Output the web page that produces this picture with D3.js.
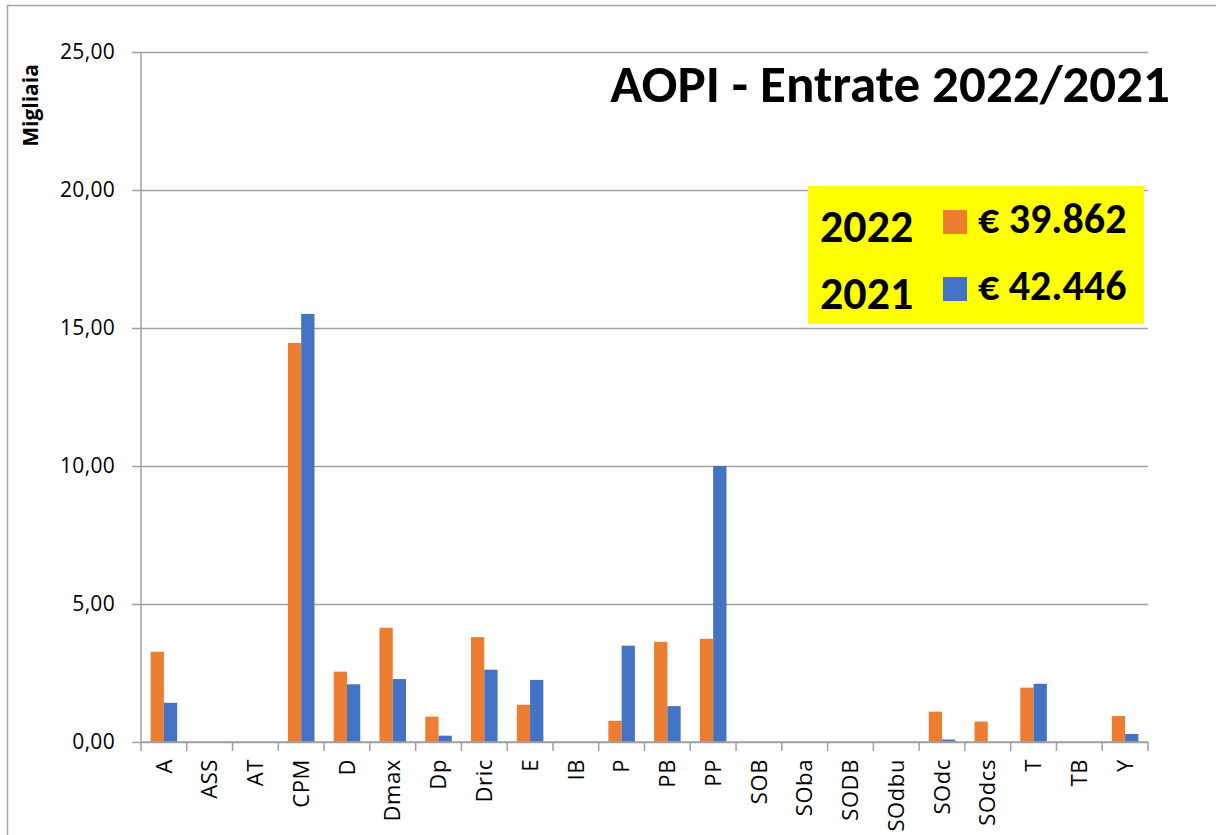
<!DOCTYPE html>
<html>
<head>
<meta charset="utf-8">
<title>AOPI - Entrate 2022/2021</title>
<style>
* { margin: 0; padding: 0; }
body { background: #fff; width: 1216px; height: 835px; overflow: hidden; }
svg { display: block; font-family: "Carlito", "Open Sans", sans-serif; }
.lbl { font-family: "Open Sans", sans-serif; }
</style>
</head>
<body>
<div id="chart"></div>
<script src="https://cdn.jsdelivr.net/npm/d3@7"></script>
<script>

var categories = [ 'A', 'ASS', 'AT', 'CPM', 'D', 'Dmax', 'Dp', 'Dric', 'E', 'IB', 'P',
	'PB', 'PP', 'SOB', 'SOba', 'SODB', 'SOdbu', 'SOdc', 'SOdcs', 'T', 'TB', 'Y' ];

// migliaia di euro
var values2022 = [ 3.27, 0, 0, 14.46, 2.55, 4.14, 0.92, 3.80, 1.35, 0, 0.77,
	3.63, 3.74, 0, 0, 0, 0, 1.10, 0.74, 1.97, 0, 0.94 ];
var values2021 = [ 1.42, 0, 0, 15.51, 2.09, 2.28, 0.23, 2.62, 2.25, 0, 3.49,
	1.30, 10.00, 0, 0, 0, 0, 0.09, 0, 2.11, 0, 0.29 ];

var seriesNames = [ '2022', '2021' ];
var seriesTotals = [ '€ 39.862', '€ 42.446' ];
var yTicks = [ 0, 5, 10, 15, 20, 25 ];

var colors = { '2022': '#ED7D31', '2021': '#4472C4' };

var width = 1216, height = 835;
var plotLeft = 141, plotRight = 1148, plotTop = 52, plotBottom = 742;

var it = d3.formatLocale( { decimal: ',', thousands: '.', grouping: [ 3 ], currency: [ '€', '' ] } );
var fmt = it.format( '.2f' );

var svg = d3.select( '#chart' ).append( 'svg' )
	.attr( 'width', width )
	.attr( 'height', height );

// outer frame
svg.append( 'rect' )
	.attr( 'x', 7.5 ).attr( 'y', 5.5 )
	.attr( 'width', 1230 ).attr( 'height', 860 )
	.style( 'fill', 'none' )
	.style( 'stroke', '#a6a6a6' )
	.style( 'stroke-width', 1.5 );

var x0 = d3.scaleBand().domain( categories ).range( [ plotLeft, plotRight ] );
var x1 = d3.scaleBand().domain( seriesNames )
	.range( [ x0.bandwidth() * 0.21, x0.bandwidth() * 0.79 ] );
var y = d3.scaleLinear().domain( [ 0, 25 ] ).range( [ plotBottom, plotTop ] );

// y axis with gridlines
var yAxis = svg.append( 'g' )
	.attr( 'transform', 'translate(' + plotLeft + ',0)' )
	.call( d3.axisLeft( y ).tickValues( yTicks ).tickFormat( fmt )
		.tickSize( 9 ).tickPadding( 17 ) )
	.attr( 'font-family', null )
	.attr( 'font-size', null );
yAxis.select( '.domain' ).remove();
yAxis.selectAll( '.tick line' ).clone()
	.attr( 'x2', plotRight - plotLeft );
yAxis.selectAll( 'line' )
	.style( 'stroke', '#a0a0a0' )
	.style( 'stroke-width', 1.5 );
yAxis.selectAll( 'text' )
	.attr( 'class', 'lbl' )
	.style( 'font-size', '21px' )
	.style( 'letter-spacing', '0.3px' )
	.style( 'fill', '#000' );

svg.append( 'line' )
	.attr( 'x1', plotLeft ).attr( 'x2', plotLeft )
	.attr( 'y1', plotTop ).attr( 'y2', plotBottom )
	.style( 'stroke', '#a0a0a0' )
	.style( 'stroke-width', 1.5 );

// bars
var rows = categories.map( function ( c, i ) {
	return { cat: c, vals: [
		{ s: '2022', v: values2022[i] },
		{ s: '2021', v: values2021[i] }
	] };
} );

var groups = svg.append( 'g' ).selectAll( 'g' )
	.data( rows )
	.enter()
	.append( 'g' )
	.attr( 'transform', function ( d ) { return 'translate(' + x0( d.cat ) + ',0)'; } );

groups.selectAll( 'rect' )
	.data( function ( d ) { return d.vals.filter( function ( e ) { return e.v > 0; } ); } )
	.enter()
	.append( 'rect' )
	.attr( 'x', function ( d ) { return x1( d.s ); } )
	.attr( 'width', x1.bandwidth() )
	.attr( 'y', function ( d ) { return y( d.v ); } )
	.attr( 'height', function ( d ) { return y( 0 ) - y( d.v ); } )
	.style( 'fill', function ( d ) { return colors[d.s]; } );

// category axis
var xAxis = svg.append( 'g' )
	.attr( 'transform', 'translate(0,' + plotBottom + ')' )
	.call( d3.axisBottom( x0 ).tickSize( 0 ).tickPadding( 0 ) )
	.attr( 'font-family', null )
	.attr( 'font-size', null );
xAxis.select( '.domain' )
	.attr( 'd', 'M' + plotLeft + ',0H' + plotRight )
	.style( 'stroke', '#a0a0a0' )
	.style( 'stroke-width', 1.5 );
xAxis.selectAll( '.tick text' )
	.attr( 'class', 'lbl' )
	.attr( 'transform', 'rotate(-90)' )
	.attr( 'x', -17 )
	.attr( 'y', 0 )
	.attr( 'dy', '0.35em' )
	.style( 'text-anchor', 'end' )
	.style( 'font-size', '22px' )
	.style( 'letter-spacing', '0.6px' )
	.style( 'fill', '#000' );

xAxis.selectAll( 'line.sep' )
	.data( d3.range( categories.length + 1 ) )
	.enter()
	.append( 'line' )
	.attr( 'class', 'sep' )
	.attr( 'x1', function ( i ) { return plotLeft + i * x0.step(); } )
	.attr( 'x2', function ( i ) { return plotLeft + i * x0.step(); } )
	.attr( 'y1', 0 ).attr( 'y2', 9 )
	.style( 'stroke', '#a0a0a0' )
	.style( 'stroke-width', 1.5 );

// y title
svg.append( 'text' )
	.attr( 'class', 'lbl' )
	.attr( 'transform', 'translate(38,105.5) rotate(-90)' )
	.style( 'text-anchor', 'middle' )
	.style( 'font-size', '21px' )
	.style( 'font-weight', 'bold' )
	.text( 'Migliaia' );

// title
var title = svg.append( 'text' )
	.attr( 'x', 1170 ).attr( 'y', 102 )
	.style( 'text-anchor', 'end' )
	.style( 'font-weight', 'bold' )
	.style( 'font-size', '46px' )
	.text( 'AOPI - Entrate 2022/2021' );
var tw = title.node().getComputedTextLength();
title.style( 'font-size', ( 46 * 560 / tw ) + 'px' );

// yellow legend box
var lg = svg.append( 'g' );
lg.append( 'rect' )
	.attr( 'x', 808 ).attr( 'y', 186 )
	.attr( 'width', 336 ).attr( 'height', 138 )
	.style( 'fill', '#FFFF00' );

var items = lg.selectAll( 'g.item' )
	.data( seriesNames )
	.enter()
	.append( 'g' )
	.attr( 'class', 'item' )
	.attr( 'transform', function ( d, i ) { return 'translate(0,' + ( i * 67 ) + ')'; } );

items.append( 'text' )
	.attr( 'x', 820 ).attr( 'y', 242 )
	.style( 'font-size', '46px' )
	.style( 'font-weight', 'bold' )
	.text( function ( d ) { return d; } );

items.append( 'rect' )
	.attr( 'x', 943 ).attr( 'y', 210 )
	.attr( 'width', 24 ).attr( 'height', 24 )
	.style( 'fill', function ( d ) { return colors[d]; } );

items.append( 'text' )
	.attr( 'x', 978 ).attr( 'y', 233 )
	.style( 'font-size', '42px' )
	.style( 'font-weight', 'bold' )
	.text( function ( d, i ) { return seriesTotals[i]; } );

</script>
</body>
</html>
